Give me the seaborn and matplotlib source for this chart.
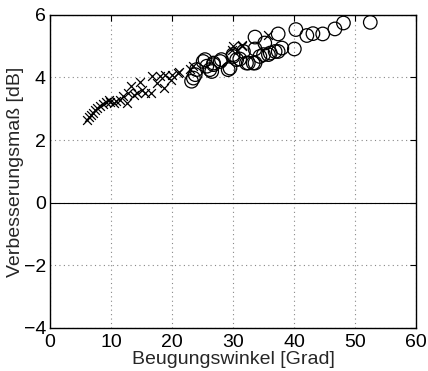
import numpy as np
import pandas as pd
import matplotlib
matplotlib.use('Agg')
import matplotlib.pyplot as plt
import seaborn as sns

# measured points, crosses (x) and circles (o)
cross_x = [6.1, 6.45, 6.7, 7.0, 7.4, 7.75, 8.2, 8.7, 9.2, 9.6, 9.8, 10.4, 10.8, 11.4,
           12.0, 12.6, 12.8, 13.2, 13.7, 14.2, 14.75, 15.0, 15.6, 16.5, 16.7, 17.6,
           18.0, 18.6, 18.85, 19.8, 19.95, 20.9, 21.2, 23.0, 23.4, 29.8, 30.0, 31.4,
           31.4, 35.8]
cross_y = [2.65, 2.74, 2.81, 2.87, 2.95, 3.03, 3.08, 3.16, 3.22, 3.29, 3.22, 3.2, 3.24, 3.27,
           3.42, 3.2, 3.5, 3.74, 3.45, 3.5, 3.84, 3.59, 3.5, 3.5, 4.06, 3.82,
           4.04, 3.66, 4.09, 3.93, 4.09, 4.14, 4.19, 4.28, 4.38, 4.89, 5.0, 5.05,
           5.0, 5.37]

circle_x = [23.2, 23.5, 23.8, 24.0, 25.1, 25.4, 25.7, 26.2, 26.5, 26.8, 26.8, 27.9, 28.1,
            29.2, 29.5, 30.0, 30.0, 30.6, 31.1, 31.7, 32.2, 32.5, 33.3, 33.6, 33.6,
            33.6, 34.4, 35.0, 35.2, 35.8, 36.1, 36.9, 37.4, 37.4, 38.0, 40.05, 40.3,
            42.1, 43.1, 44.7, 46.7, 48.1, 52.5]
circle_y = [3.88, 3.98, 4.09, 4.25, 4.51, 4.57, 4.36, 4.25, 4.19, 4.46, 4.41, 4.51, 4.57,
            4.25, 4.3, 4.73, 4.67, 4.57, 4.59, 4.83, 4.46, 4.46, 4.46, 4.46, 4.91,
            5.29, 4.67, 4.73, 5.1, 4.73, 4.78, 4.83, 4.83, 5.39, 4.94, 4.91, 5.53,
            5.34, 5.4, 5.39, 5.55, 5.74, 5.76]

sns.set_style('white')
plt.rcParams['font.family'] = ['Liberation Sans', 'DejaVu Sans']

fig = plt.figure(figsize=(4.28, 3.71), dpi=100)
ax = fig.add_axes([0.117, 0.116, 0.855, 0.844])

sns.scatterplot(x=cross_x, y=cross_y, marker='x', s=40, color='black', linewidth=0.9, ax=ax)
sns.scatterplot(x=circle_x, y=circle_y, marker='o', s=95, facecolor='none',
                edgecolor='black', linewidth=0.9, ax=ax)

ax.axhline(0, color='black', linewidth=0.8, zorder=1)

ax.set_xlim(0, 60)
ax.set_ylim(-4, 6)
ax.set_xticks(np.arange(0, 61, 10))
ax.set_yticks(np.arange(-4, 7, 2))
ax.set_yticklabels(['\u22124', '\u22122', '0', '2', '4', '6'])
ax.grid(True, linestyle=(0, (1, 3)), color='#888888', linewidth=0.8)
ax.set_axisbelow(True)
ax.tick_params(direction='in', length=4, width=0.8, labelsize=14, top=True, right=True,
               colors='black')
ax.tick_params(axis='x', pad=4)
ax.tick_params(axis='y', pad=3)
for s in ax.spines.values():
    s.set_visible(True)
    s.set_color('black')
    s.set_linewidth(1)

ax.set_xlabel('Beugungswinkel [Grad]', fontsize=14, labelpad=0.5)
ax.set_ylabel('Verbesserungsmaß [dB]', fontsize=14, labelpad=0)

fig.savefig('out.png', dpi=100)
